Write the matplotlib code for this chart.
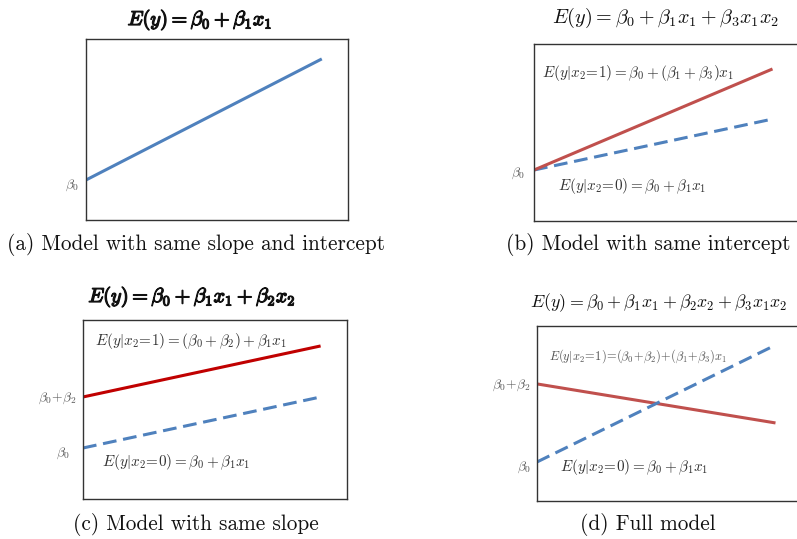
import matplotlib
matplotlib.use("Agg")
import matplotlib.pyplot as plt
import matplotlib.patheffects as pe

plt.rcParams['mathtext.fontset'] = 'cm'

W, H = 797, 539

# ---- data (axes fraction units: x from 0 to 1, y from 0 to 1) ----
x_ends = [0.0, 0.90]
a_line = [0.221, 0.890]
b_red = [0.288, 0.859]
b_blue = [0.288, 0.576]
c_red = [0.570, 0.855]
c_blue = [0.285, 0.570]
d_red = [0.669, 0.446]
d_blue = [0.223, 0.891]

titles = [r"$E(y) = \beta_0 + \beta_1 x_1$",
          r"$E(y) = \beta_0 + \beta_1 x_1 + \beta_3 x_1 x_2$",
          r"$E(y) = \beta_0 + \beta_1 x_1 + \beta_2 x_2$",
          r"$E(y) = \beta_0 + \beta_1 x_1 + \beta_2 x_2 + \beta_3 x_1 x_2$"]
captions = ["(a) Model with same slope and intercept",
            "(b) Model with same intercept",
            "(c) Model with same slope",
            "(d) Full model"]

BLUE = "#4f81bd"
RED = "#c0504d"
DARKRED = "#c00000"
TXT = "#333333"
LBL = "#555555"

fig = plt.figure(figsize=(W / 100, H / 100), dpi=100)


def box(l, r, t, b):
    ax = fig.add_axes([l / W, 1 - b / H, (r - l) / W, (b - t) / H])
    ax.set_xlim(0, 1)
    ax.set_ylim(0, 1)
    ax.set_xticks([])
    ax.set_yticks([])
    for s in ax.spines.values():
        s.set_color("#333333")
        s.set_linewidth(1.0)
    return ax


def ftext(x, y, s, **kw):
    return fig.text(x / W, 1 - y / H, s, **kw)


dash = (0, (4.5, 2.2))
LW = 2.2

axa = box(86, 348, 39, 220)
axa.plot(x_ends, a_line, color=BLUE, lw=LW, solid_capstyle='butt')

axb = box(534, 799, 44, 221)
axb.plot(x_ends, b_blue, color=BLUE, lw=LW, linestyle=dash)
axb.plot(x_ends, b_red, color=RED, lw=LW, solid_capstyle='butt')

axc = box(83, 347, 320, 499)
axc.plot(x_ends, c_red, color=DARKRED, lw=LW, solid_capstyle='butt')
axc.plot(x_ends, c_blue, color=BLUE, lw=LW, linestyle=dash)

axd = box(537, 802, 326, 501)
axd.plot(x_ends, d_red, color=RED, lw=LW, solid_capstyle='butt')
axd.plot(x_ends, d_blue, color=BLUE, lw=LW, linestyle=dash)

# titles
tkw = dict(ha='center', va='center', color="#111111")
bold = [pe.withStroke(linewidth=0.9, foreground="#111111")]
ftext(200, 20, titles[0], path_effects=bold, fontsize=14.5, **tkw)
ftext(666, 18, titles[1], fontsize=14.5, **tkw)
ftext(192, 297, titles[2], path_effects=bold, fontsize=14.5, **tkw)
ftext(659, 303, titles[3], fontsize=12.9, **tkw)

# captions
ckw = dict(ha='center', va='center', fontsize=15.3, family='cmr10', color="#111111")
ftext(196, 244, captions[0], **ckw)
ftext(648, 245, captions[1], **ckw)
ftext(196, 525, captions[2], **ckw)
ftext(648, 525, captions[3], **ckw)

# axis intercept labels
lkw = dict(ha='right', va='center', fontsize=9.8, color=LBL)
ftext(79, 185, r"$\beta_0$", **lkw)
ftext(525, 173, r"$\beta_0$", **lkw)
ftext(77, 398, r"$\beta_0\!+\!\beta_2$", **lkw)
ftext(70, 453, r"$\beta_0$", **lkw)
ftext(531, 385, r"$\beta_0\!+\!\beta_2$", **lkw)
ftext(531, 467, r"$\beta_0$", **lkw)

# equations
ekw = dict(ha='left', va='center', fontsize=10.9, color=TXT)
ftext(542, 73, r"$E(y|x_2\!=\!1) = \beta_0 + (\beta_1 + \beta_3)x_1$", **ekw)
ftext(558, 186, r"$E(y|x_2\!=\!0) = \beta_0 + \beta_1 x_1$", **ekw)
ftext(95, 341, r"$E(y|x_2\!=\!1) = (\beta_0 + \beta_2) + \beta_1 x_1$", **ekw)
ftext(102, 462, r"$E(y|x_2\!=\!0) = \beta_0 + \beta_1 x_1$", **ekw)
ftext(549, 356, r"$E(y|x_2\!=\!1)\!=\!(\beta_0\!+\!\beta_2)\!+\!(\beta_1\!+\!\beta_3)x_1$",
      ha='left', va='center', fontsize=8.9, color="#555555")
ftext(560, 467, r"$E(y|x_2\!=\!0) = \beta_0 + \beta_1 x_1$", **ekw)

fig.savefig("out.png", dpi=100)
